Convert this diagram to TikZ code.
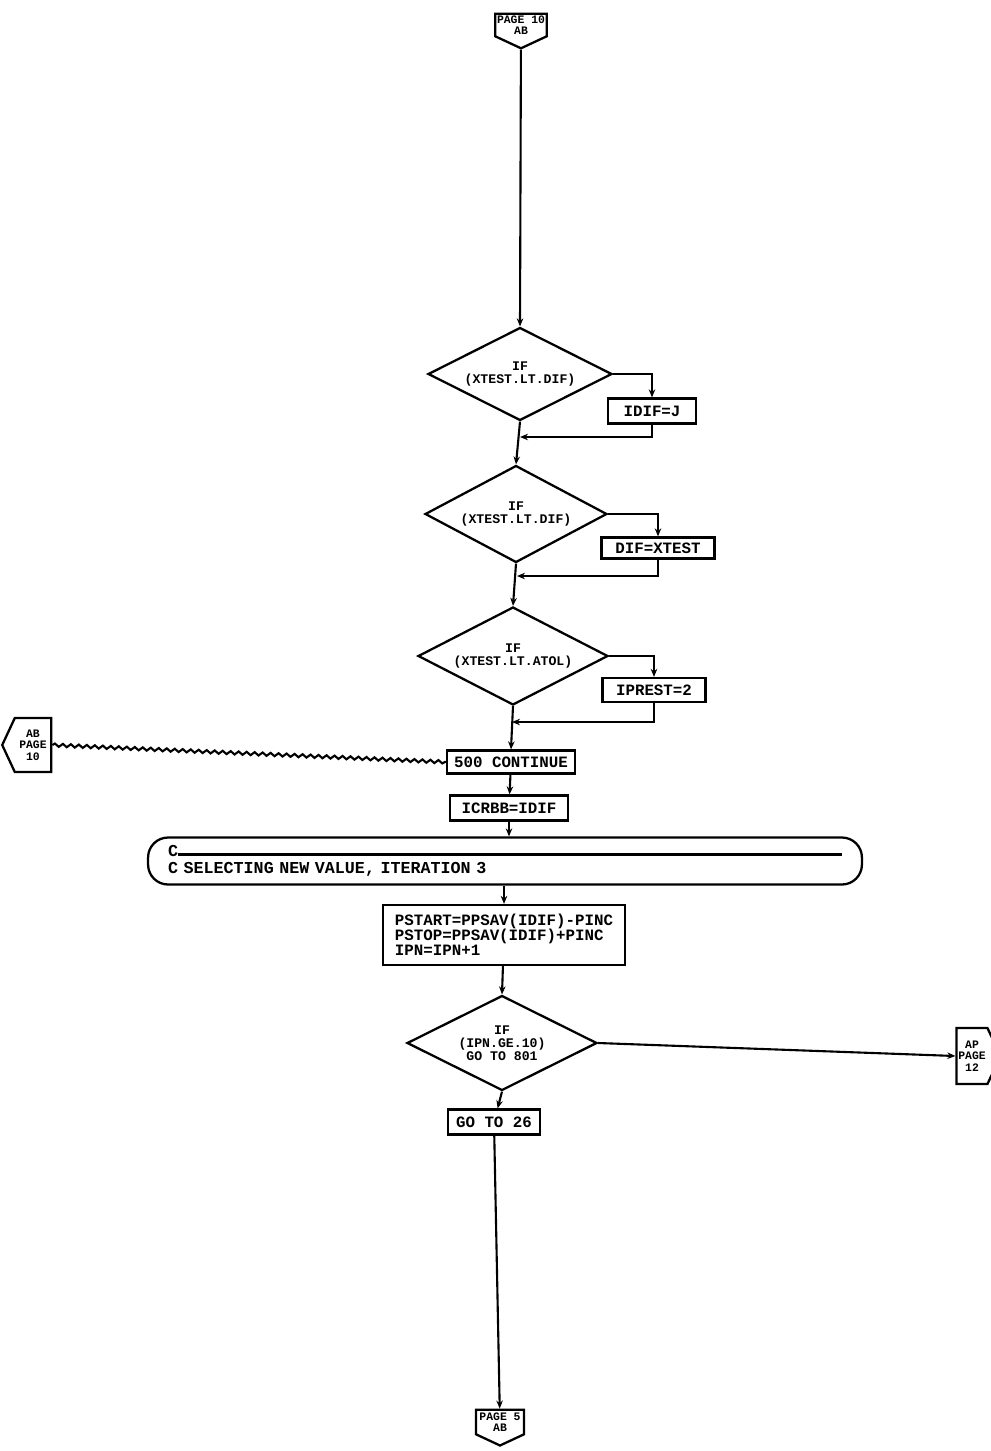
\documentclass[tikz,border=0pt]{standalone}
\usepackage{fontspec}
\setmonofont{Liberation Mono}
\usetikzlibrary{calc, positioning, arrows.meta, shapes.geometric,
                 shapes.symbols, decorations.pathmorphing}
\newcommand{\dashrule}{\leaders\hrule height 2pt depth 0pt\hskip 0pt plus 1filll\null}

\begin{document}
\begin{tikzpicture}[x=0.02cm, y=-0.02cm,
  stmt/.style={draw, line width=1.3pt, inner sep=1pt, minimum height=0.48cm,
    align=left, font=\ttfamily\bfseries\fontsize{9}{8.5}\selectfont},
  test/.style={draw, diamond, line width=1.3pt, aspect=2, inner sep=0pt,
    align=center, font=\ttfamily\bfseries\fontsize{7.5}{7.5}\selectfont},
  note/.style={draw, line width=1.3pt, rounded corners=0.4cm,
    minimum width=14.28cm, minimum height=0.94cm, text width=13.48cm,
    align=left, font=\ttfamily\bfseries\fontsize{9.5}{10}\selectfont},
  pgref/.style={draw, signal, line width=1.3pt, inner sep=1pt,
    signal pointer angle=130, align=center,
    font=\ttfamily\bfseries\fontsize{6.5}{6.5}\selectfont},
  arw/.style={-{Stealth[length=1.6mm, width=1.3mm]}, line width=1.2pt},
  wavy/.style={line width=1.2pt, decorate,
    decoration={snake, amplitude=0.9pt, segment length=1.6mm}},
]
\useasboundingbox (0,0) rectangle (991,1451);

% Page connectors
\node[pgref, signal to=south, minimum width=1.0cm, minimum height=0.68cm]
  (top) at (521,25) {PAGE 10\\AB};
\node[pgref, signal to=west, minimum width=0.98cm, minimum height=1.08cm]
  (lpg) at (33,745) {AB\\PAGE\\10};
\node[pgref, signal to=east, minimum width=0.74cm, minimum height=1.12cm]
  (rpg) at (972,1056) {AP\\PAGE\\12};
\node[pgref, signal to=south, minimum width=0.96cm, minimum height=0.7cm]
  (bot) at (500,1422) {PAGE 5\\AB};

% Tests and statements
\node[test, minimum width=3.68cm, minimum height=1.86cm] (d1) at (520,374)
  {IF\\(XTEST.LT.DIF)};
\node[stmt, minimum width=1.76cm, minimum height=0.5cm] (b1) at (652,411)
  {IDIF=J};
\node[test, minimum width=3.64cm, minimum height=1.94cm] (d2) at (516,514)
  {IF\\(XTEST.LT.DIF)};
\node[stmt, minimum width=2.26cm, minimum height=0.42cm] (b2) at (658,548)
  {DIF=XTEST};
\node[test, minimum width=3.8cm, minimum height=1.96cm] (d3) at (513,656)
  {IF\\(XTEST.LT.ATOL)};
\node[stmt, minimum width=2.06cm] (b3) at (654,690) {IPREST=2};

\node[stmt, minimum width=2.56cm, minimum height=0.46cm] (cont) at (511,762)
  {500 CONTINUE};
\node[stmt, minimum width=2.36cm, minimum height=0.5cm] (icr) at (509,808)
  {ICRBB=IDIF};
\node[note] (cmt) at (505,861)
  {C\dashrule\\C SELECTING NEW VALUE, ITERATION 3};
\node[stmt, minimum width=4.84cm, minimum height=1.2cm] (pst) at (504,935)
  {PSTART=PPSAV(IDIF)-PINC\\PSTOP=PPSAV(IDIF)+PINC\\IPN=IPN+1};
\node[test, minimum width=3.8cm, minimum height=1.9cm] (d4) at (502,1043)
  {IF\\(IPN.GE.10)\\GO TO 801};
\node[stmt, minimum width=1.84cm, minimum height=0.5cm] (goto) at (494,1122)
  {GO TO 26};

% Join points on the main line
\coordinate (j1) at (520,437);
\coordinate (j2) at (517,576);
\coordinate (j3) at (512,722);

% Connectors
\draw[arw] (top) -- (d1.north);
\draw[arw] (d1.east) -| (b1.north);
\draw[arw] (b1.south) |- (j1);
\draw[arw] (d1.south) -- (d2.north);
\draw[arw] (d2.east) -| (b2.north);
\draw[arw] (b2.south) |- (j2);
\draw[arw] (d2.south) -- (d3.north);
\draw[arw] (d3.east) -| (b3.north);
\draw[arw] (b3.south) |- (j3);
\draw[arw] (d3.south) -- (cont.north);
\draw[wavy] (lpg.east) -- (cont.west);
\draw[arw] (cont) -- (icr);
\draw[arw] (icr) -- (icr |- cmt.north);
\draw[arw] (pst |- cmt.south) -- (pst);
\draw[arw] (pst) -- (d4.north);
\draw[arw] (d4.east) -- (rpg.west);
\draw[arw] (d4.south) -- (goto);
\draw[arw] (goto) -- (bot);
\end{tikzpicture}
\end{document}
